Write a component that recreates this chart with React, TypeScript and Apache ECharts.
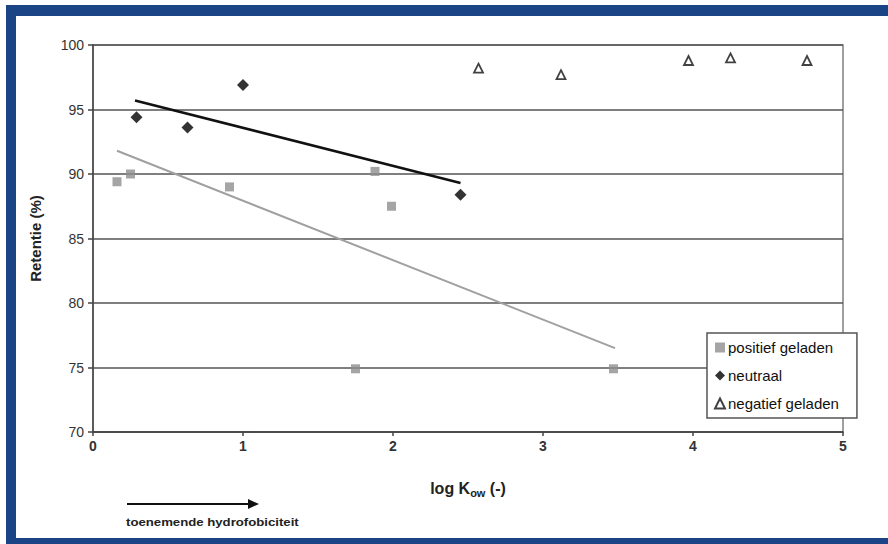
import React, { useEffect, useRef } from "react";
import * as echarts from "echarts";

const positiefX = [0.16, 0.25, 0.91, 1.88, 1.99, 1.75, 3.47];
const positiefY = [89.4, 90.0, 89.0, 90.2, 87.5, 74.9, 74.9];
const neutraalX = [0.29, 0.63, 1.0, 2.45];
const neutraalY = [94.4, 93.6, 96.9, 88.4];
const negatiefX = [2.57, 3.12, 3.97, 4.25, 4.76];
const negatiefY = [98.2, 97.7, 98.8, 99.0, 98.8];
const trendPositiefX = [0.16, 3.48];
const trendPositiefY = [91.8, 76.5];
const trendNeutraalX = [0.28, 2.45];
const trendNeutraalY = [95.7, 89.3];
const legendNames = ["positief geladen", "neutraal", "negatief geladen"];
const yMin = 70;
const yMax = 100;
const yStep = 5;
const xMin = 0;
const xMax = 5;
const xStep = 1;

const pairs = (xs: number[], ys: number[]) => xs.map((x, i) => [x, ys[i]]);

export default function App() {
  const ref = useRef<HTMLDivElement>(null);
  useEffect(() => {
    if (!ref.current) return;
    const chart = echarts.init(ref.current, null, { renderer: "svg" });
    const font = "Arial, 'Liberation Sans', sans-serif";
    chart.setOption({
      animation: false,
      backgroundColor: "#ffffff",
      grid: {
        left: 93,
        top: 45,
        right: 45,
        bottom: 112,
        show: true,
        borderColor: "#808080",
        borderWidth: 1.5,
        backgroundColor: "transparent",
      },
      xAxis: {
        type: "value",
        min: xMin,
        max: xMax,
        interval: xStep,
        axisLine: { show: true, lineStyle: { color: "#444", width: 1.5 } },
        axisTick: { show: true, length: 4, lineStyle: { color: "#444", width: 1.5 } },
        splitLine: { show: false },
        axisLabel: { color: "#333", fontSize: 14, fontWeight: "bold", fontFamily: font, margin: 7 },
        name: "{b|log K}{s|ow}{b| (-)}",
        nameLocation: "middle",
        nameGap: 47,
        nameTextStyle: {
          rich: {
            b: { fontSize: 16, fontWeight: "bold", color: "#222", fontFamily: font },
            s: { fontSize: 11, fontWeight: "bold", color: "#222", fontFamily: font, verticalAlign: "bottom", padding: [8, 0, 0, 0] },
          },
        },
      },
      yAxis: {
        type: "value",
        min: yMin,
        max: yMax,
        interval: yStep,
        axisLine: { show: true, lineStyle: { color: "#444", width: 1.5 } },
        axisTick: { show: true, length: 5, lineStyle: { color: "#444", width: 1.5 } },
        splitLine: { show: true, lineStyle: { color: "#555", width: 1.5 } },
        axisLabel: { color: "#333", fontSize: 14, fontFamily: font, margin: 9 },
        name: "Retentie (%)",
        nameLocation: "middle",
        nameGap: 50,
        nameRotate: 90,
        nameTextStyle: { fontSize: 15, fontWeight: "bold", color: "#222", fontFamily: font },
      },
      legend: {
        data: legendNames,
        orient: "vertical",
        left: 707,
        top: 333,
        padding: [7, 18, 7, 7],
        itemGap: 13,
        itemWidth: 10,
        itemHeight: 10,
        backgroundColor: "#ffffff",
        borderColor: "#555",
        borderWidth: 1.5,
        borderRadius: 0,
        textStyle: { fontSize: 15, color: "#111", fontFamily: font, padding: [0, 0, 0, -2] },
      },
      series: [
        {
          name: "trendPositief",
          type: "line",
          data: pairs(trendPositiefX, trendPositiefY),
          showSymbol: false,
          symbol: "none",
          lineStyle: { color: "#a0a0a0", width: 2 },
          z: 2,
        },
        {
          name: "trendNeutraal",
          type: "line",
          data: pairs(trendNeutraalX, trendNeutraalY),
          showSymbol: false,
          symbol: "none",
          lineStyle: { color: "#111", width: 2.5 },
          z: 2,
        },
        {
          name: legendNames[0],
          type: "scatter",
          symbol: "rect",
          symbolSize: 9,
          itemStyle: { color: "#8f8f8f" },
          data: pairs(positiefX, positiefY),
          z: 3,
        },
        {
          name: legendNames[1],
          type: "scatter",
          symbol: "diamond",
          symbolSize: 12,
          itemStyle: { color: "#000" },
          data: pairs(neutraalX, neutraalY),
          z: 3,
        },
        {
          name: legendNames[2],
          type: "scatter",
          symbol: "triangle",
          symbolSize: 9,
          itemStyle: { color: "#fff", borderColor: "#111", borderWidth: 1.8 },
          data: pairs(negatiefX, negatiefY),
          z: 3,
        },
      ],
      graphic: [
        { type: "rect", shape: { x: 6, y: 5, width: 882, height: 11 }, style: { fill: "#1b4487" }, silent: true },
        { type: "rect", shape: { x: 6, y: 5, width: 10, height: 539 }, style: { fill: "#1b4487" }, silent: true },
        { type: "rect", shape: { x: 6, y: 538, width: 882, height: 6 }, style: { fill: "#1b4487" }, silent: true },
        { type: "line", shape: { x1: 127, y1: 504, x2: 250, y2: 504 }, style: { stroke: "#111", lineWidth: 1.8 } },
        { type: "polygon", shape: { points: [[248, 499], [259, 504], [248, 509]] }, style: { fill: "#111" } },
        {
          type: "text",
          x: 126,
          y: 522,
          scaleX: 1.2,
          style: { text: "toenemende hydrofobiciteit", font: `bold 11px ${font}`, fill: "#222", verticalAlign: "middle" },
        },
      ],
    });
    return () => chart.dispose();
  }, []);
  return <div ref={ref} style={{ position: "fixed", left: 0, top: 0, width: 888, height: 544 }} />;
}
